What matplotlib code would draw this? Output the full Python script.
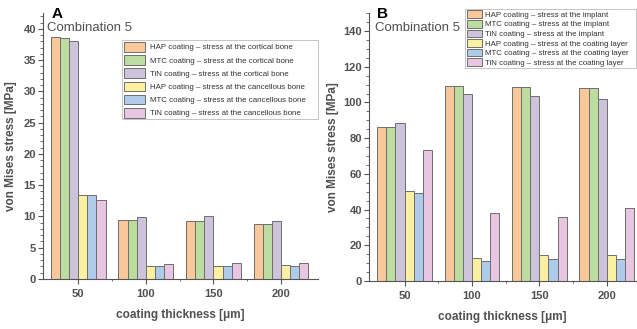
import matplotlib.pyplot as plt
import numpy as np
from matplotlib.ticker import MultipleLocator

# coating thickness groups
thickness = ['50', '100', '150', '200']

# Panel A: stress in bone [MPa]
a_hap_cort = [38.7, 9.5, 9.3, 8.8]
a_mtc_cort = [38.5, 9.5, 9.3, 8.8]
a_tin_cort = [38.1, 9.9, 10.1, 9.3]
a_hap_canc = [13.4, 2.0, 2.1, 2.2]
a_mtc_canc = [13.5, 2.0, 2.1, 2.1]
a_tin_canc = [12.7, 2.4, 2.6, 2.5]

# Panel B: stress in implant / coating layer [MPa]
b_hap_impl = [86.3, 109.0, 108.5, 107.9]
b_mtc_impl = [86.2, 109.0, 108.6, 108.1]
b_tin_impl = [88.4, 104.8, 103.4, 102.2]
b_hap_coat = [50.6, 12.8, 14.6, 14.4]
b_mtc_coat = [49.0, 11.0, 12.5, 12.1]
b_tin_coat = [73.5, 37.8, 36.1, 41.1]

labels_a = ['HAP coating – stress at the cortical bone',
            'MTC coating – stress at the cortical bone',
            'TiN coating – stress at the cortical bone',
            'HAP coating – stress at the cancellous bone',
            'MTC coating – stress at the cancellous bone',
            'TiN coating – stress at the cancellous bone']
labels_b = ['HAP coating – stress at the implant',
            'MTC coating – stress at the implant',
            'TiN coating – stress at the implant',
            'HAP coating – stress at the coating layer',
            'MTC coating – stress at the coating layer',
            'TiN coating – stress at the coating layer']

colors = ['#f8c89b', '#bddca0', '#cdc4dc', '#fbf0a2', '#afcbea', '#e8c5e0']
edge = '#6e6e6e'
txt = '#505050'

plt.rcParams['font.family'] = ['Liberation Sans', 'DejaVu Sans']

fig = plt.figure(figsize=(6.37, 3.29), dpi=100)
ax_a = fig.add_axes([0.0675, 0.152, 0.432, 0.808])
ax_b = fig.add_axes([0.579, 0.146, 0.419, 0.814])

x = np.arange(len(thickness))
w = 0.135


def draw(ax, series, labels, ylim, ymajor, ymin, xlim):
    for i, (vals, lab) in enumerate(zip(series, labels)):
        ax.bar(x + (i - 2.5) * w, vals, w, color=colors[i], edgecolor=edge,
               linewidth=0.7, label=lab)
    ax.set_xlim(*xlim)
    ax.set_ylim(*ylim)
    ax.set_xticks(x)
    ax.set_xticklabels(thickness, fontweight='bold')
    ax.set_xticks(x[:-1] + 0.5, minor=True)
    ax.yaxis.set_major_locator(MultipleLocator(ymajor))
    ax.yaxis.set_minor_locator(MultipleLocator(ymin))
    for lbl in ax.get_yticklabels():
        lbl.set_fontweight('bold')
    for s in ['top', 'right']:
        ax.spines[s].set_visible(False)
    for s in ['left', 'bottom']:
        ax.spines[s].set_color('#555555')
        ax.spines[s].set_linewidth(0.8)
    ax.tick_params(axis='x', which='major', length=3.5, direction='out',
                   pad=4, labelsize=8, labelcolor=txt, color='#555555', width=0.8)
    ax.tick_params(axis='x', which='minor', length=1.5, direction='out',
                   color='#555555')
    ax.tick_params(axis='y', which='major', length=3.5, direction='out', pad=1.5,
                   labelsize=8, labelcolor=txt, color='#555555', width=0.8)
    ax.tick_params(axis='y', which='minor', length=2, direction='out',
                   color='#555555', width=0.6)
    ax.set_xlabel('coating thickness [μm]', fontsize=8.5, color=txt,
                  fontweight='bold', labelpad=7)


draw(ax_a, [a_hap_cort, a_mtc_cort, a_tin_cort, a_hap_canc, a_mtc_canc, a_tin_canc],
     labels_a, (0, 42.5), 5, 1, (-0.52, 3.55))
draw(ax_b, [b_hap_impl, b_mtc_impl, b_tin_impl, b_hap_coat, b_mtc_coat, b_tin_coat],
     labels_b, (0, 150), 20, 5, (-0.53, 3.43))

ax_a.set_ylabel('von Mises stress [MPa]', fontsize=8.5, color=txt,
                fontweight='bold', labelpad=5)
ax_b.set_ylabel('von Mises stress [MPa]', fontsize=8.5, color=txt,
                fontweight='bold', labelpad=3)

ax_a.text(0.03, 0.995, 'A', transform=ax_a.transAxes, fontsize=11,
          fontweight='bold', va='center', ha='left')
ax_a.text(0.015, 0.945, 'Combination 5', transform=ax_a.transAxes,
          fontsize=9.5, color=txt, va='center', ha='left')
ax_b.text(0.03, 0.995, 'B', transform=ax_b.transAxes, fontsize=11,
          fontweight='bold', va='center', ha='left')
ax_b.text(0.025, 0.945, 'Combination 5', transform=ax_b.transAxes,
          fontsize=9.5, color=txt, va='center', ha='left')

leg_font = {'family': ['Liberation Sans Narrow', 'Liberation Sans'], 'size': 5.7}
ax_a.legend(loc='upper left', bbox_to_anchor=(0.287, 0.0, 0.713, 0.898),
            mode='expand', prop=leg_font,
            frameon=True, fancybox=False, edgecolor='#aaaaaa',
            handlelength=2.7, handleheight=1.5, handletextpad=0.6,
            labelspacing=0.45, borderpad=0.2, borderaxespad=0,
            labelcolor='#333333').get_frame().set_linewidth(0.6)
ax_b.legend(loc='upper left', bbox_to_anchor=(0.362, 0.0, 0.638, 1.015),
            mode='expand', prop=leg_font,
            frameon=True, fancybox=False, edgecolor='#aaaaaa',
            handlelength=1.9, handleheight=1.1, handletextpad=0.4,
            labelspacing=0.14, borderpad=0.15, borderaxespad=0,
            labelcolor='#333333').get_frame().set_linewidth(0.6)

fig.savefig('out.png', dpi=100)
